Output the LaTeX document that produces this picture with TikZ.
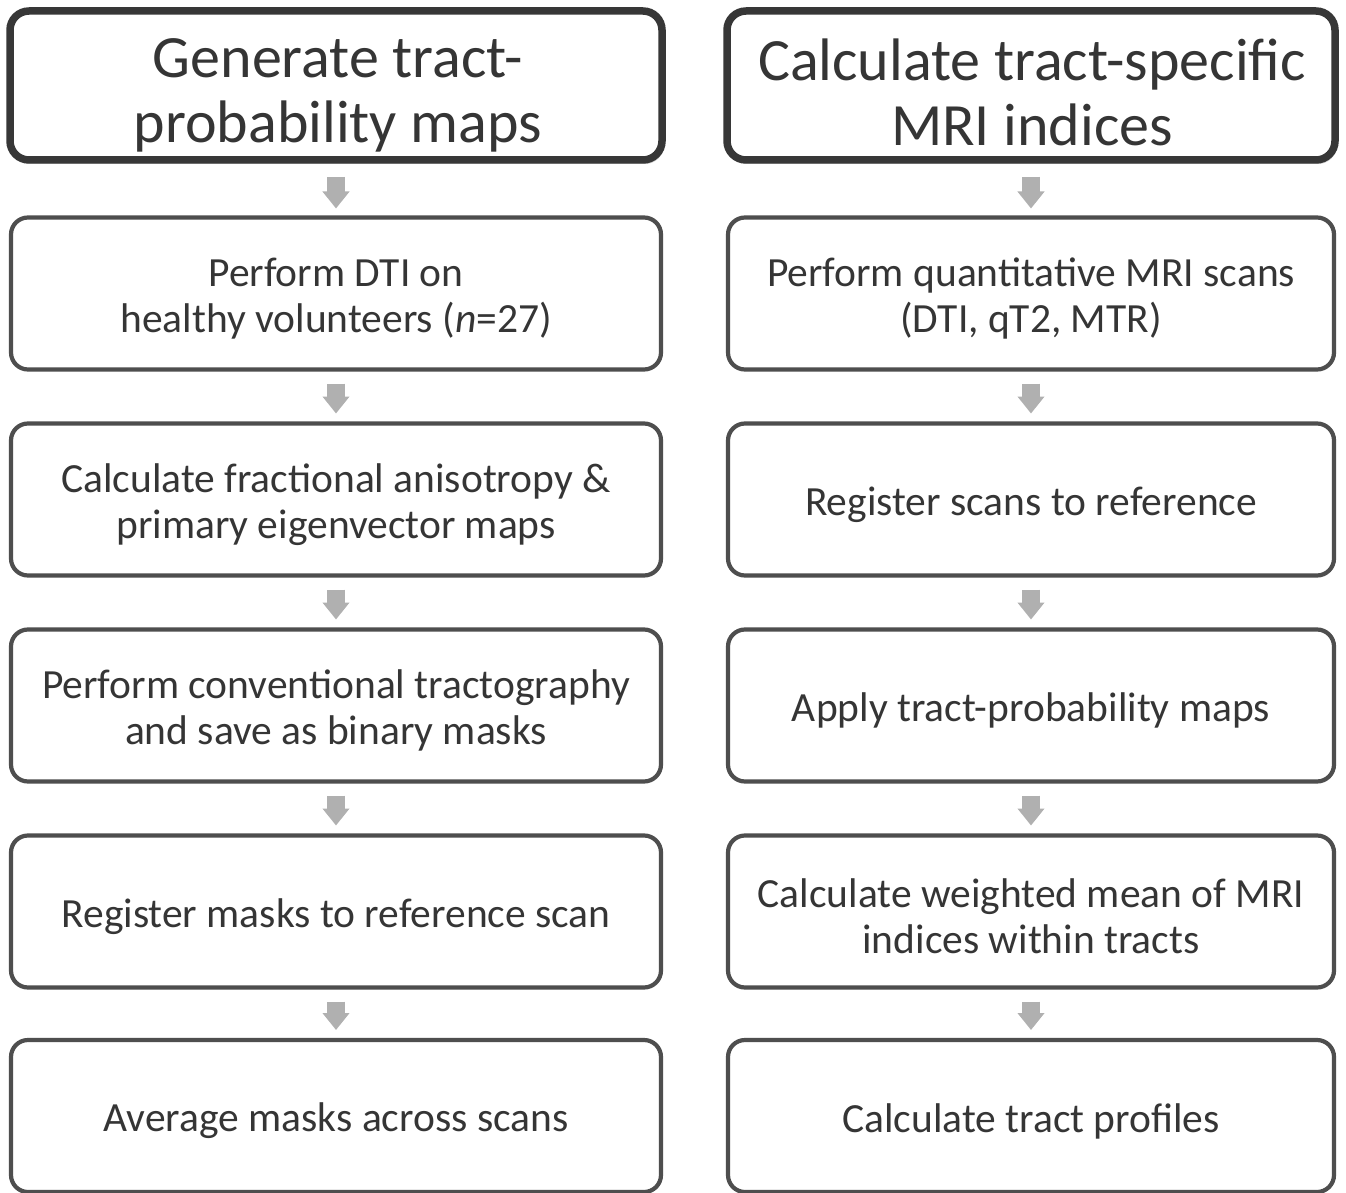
\documentclass[tikz,border=0pt]{standalone}
\usepackage{fontspec}
\setmainfont{Carlito}
\usetikzlibrary{arrows.meta,shadows}
\definecolor{txt}{HTML}{353535}
\definecolor{bord}{HTML}{4E4E4E}
\definecolor{hbord}{HTML}{373737}
\definecolor{arr}{HTML}{B0B0B0}
\begin{document}
\begin{tikzpicture}[x=1pt,y=-1pt,
  stepbox/.style={draw=bord, line width=4.2pt, rounded corners=17pt, fill=white,
    minimum height=152pt, outer sep=0pt, inner sep=0pt},
  steptext/.style={align=center, text=txt, inner sep=0pt,
    font=\fontsize{41.5}{46}\selectfont},
  headbox/.style={draw=hbord, line width=7.5pt, rounded corners=19pt, fill=white,
    minimum height=149pt, outer sep=0pt, inner sep=0pt,
    drop shadow={shadow xshift=2pt, shadow yshift=-4pt, fill=black!35, opacity=0.5}},
  headtext/.style={align=center, text=txt, inner sep=0pt,
    font=\fontsize{60}{65}\selectfont},
  leftcol/.style={minimum width=650pt},
  rightcol/.style={minimum width=606pt},
  blockarrow/.style={draw=arr, line width=18pt,
    -{Triangle[width=26pt,length=17pt]}}
]
\useasboundingbox (0,0) rectangle (1346,1193);
\fill[white] (0,0) rectangle (1346,1193);

% headers
\node[headbox, minimum width=652pt] (h1) at (336,85.5) {};
\node[headbox, minimum width=608pt] (h2) at (1031,85.5) {};
\node[headtext] (h1t) at (338,95.5) {Generate tract-\\probability maps};
\node[headtext] (h2t) at (1032,92) {Calculate tract-specific\\MRI indices};

% left column boxes
\node[stepbox, leftcol] (l1) at (336,293.5) {};
\node[stepbox, leftcol] (l2) at (336,499.5) {};
\node[stepbox, leftcol] (l3) at (336,705.5) {};
\node[stepbox, leftcol] (l4) at (336,911.5) {};
\node[stepbox, leftcol] (l5) at (336,1116) {};

% right column boxes
\node[stepbox, rightcol] (r1) at (1031,293.5) {};
\node[stepbox, rightcol] (r2) at (1031,499.5) {};
\node[stepbox, rightcol] (r3) at (1031,705.5) {};
\node[stepbox, rightcol] (r4) at (1031,911.5) {};
\node[stepbox, rightcol] (r5) at (1031,1116) {};

% texts
\node[steptext] (l1t) at ([yshift=-5pt]l1.center) {Perform DTI on\\healthy volunteers (\textit{n}=27)};
\node[steptext] (l2t) at ([yshift=-5pt]l2.center) {Calculate fractional anisotropy \&\\primary eigenvector maps};
\node[steptext] (l3t) at ([yshift=-5pt]l3.center) {Perform conventional tractography\\and save as binary masks};
\node[steptext] (l4t) at ([yshift=-5pt]l4.center) {Register masks to reference scan};
\node[steptext] (l5t) at ([yshift=-5pt]l5.center) {Average masks across scans};
\node[steptext] (r1t) at ([yshift=-5pt]r1.center) {Perform quantitative MRI scans\\(DTI, qT2, MTR)};
\node[steptext] (r2t) at ([yshift=-5pt]r2.center) {Register scans to reference};
\node[steptext] (r3t) at ([yshift=-5pt]r3.center) {Apply tract-probability maps};
\node[steptext] (r4t) at ([yshift=-5pt]r4.center) {Calculate weighted mean of MRI\\indices within tracts};
\node[steptext] (r5t) at ([yshift=-5pt]r5.center) {Calculate tract profiles};

% arrows
\draw[blockarrow] ([yshift=-17pt]h1.south) -- ([yshift=9pt]l1.north);
\draw[blockarrow] ([yshift=-14pt]l1.south) -- ([yshift=10pt]l2.north);
\draw[blockarrow] ([yshift=-14pt]l2.south) -- ([yshift=10pt]l3.north);
\draw[blockarrow] ([yshift=-14pt]l3.south) -- ([yshift=10pt]l4.north);
\draw[blockarrow] ([yshift=-14pt]l4.south) -- ([yshift=10pt]l5.north);

\draw[blockarrow] ([yshift=-17pt]h2.south) -- ([yshift=9pt]r1.north);
\draw[blockarrow] ([yshift=-14pt]r1.south) -- ([yshift=10pt]r2.north);
\draw[blockarrow] ([yshift=-14pt]r2.south) -- ([yshift=10pt]r3.north);
\draw[blockarrow] ([yshift=-14pt]r3.south) -- ([yshift=10pt]r4.north);
\draw[blockarrow] ([yshift=-14pt]r4.south) -- ([yshift=10pt]r5.north);
\end{tikzpicture}
\end{document}
